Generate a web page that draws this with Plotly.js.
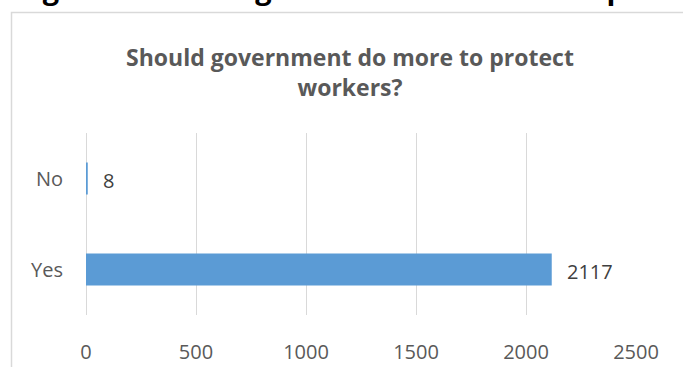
<!DOCTYPE html>
<html>
<head>
<meta charset="utf-8">
<script src="https://cdn.plot.ly/plotly-3.0.1.min.js"></script>
<style>html,body{margin:0;padding:0;background:#fff;}#chart{width:683px;height:367px;}</style>
</head>
<body>
<div id="chart"></div>
<script>
var categories = ['Yes', 'No'];
var counts = [2117, 8];
var xTicks = [0, 500, 1000, 1500, 2000, 2500];
var chartTitle = 'Should government do more to protect<br>workers?';
var captionText = 'Figure 3: Should government do more to protect workers?';

var W = 683, H = 367, L = 86, R = 47, T = 133, B = 52;
var pw = W - L - R, ph = H - T - B;
function px2x(p) { return (p - L) / pw; }
function py2y(p) { return 1 - (p - T) / ph; }

var font = 'Open Sans, DejaVu Sans, sans-serif';

var trace = {
  type: 'bar',
  orientation: 'h',
  y: categories,
  x: counts,
  marker: { color: '#5b9bd5' },
  hoverinfo: 'skip'
};

var annotations = categories.map(function (c, i) {
  return {
    xref: 'x', yref: 'y', x: counts[i], y: c,
    text: String(counts[i]), showarrow: false,
    xanchor: 'left', yanchor: 'middle', xshift: 13, yshift: -2,
    font: { family: font, size: 20, color: '#404040' }
  };
});
annotations.push({
  xref: 'paper', yref: 'paper', x: px2x(16), y: py2y(-13),
  text: '<b>' + captionText + '</b>', showarrow: false,
  xanchor: 'left', yanchor: 'middle',
  font: { family: font, size: 29, color: '#000000' }
});

var layout = {
  width: W, height: H,
  margin: { l: L, r: R, t: T, b: B, pad: 0 },
  paper_bgcolor: '#ffffff', plot_bgcolor: '#ffffff',
  showlegend: false,
  bargap: 0.65,
  title: {
    text: '<b>' + chartTitle + '</b>',
    xref: 'paper', x: px2x(350), xanchor: 'center',
    yref: 'container', y: 1 - 66 / H, yanchor: 'top',
    font: { family: font, size: 23, color: '#595959' }
  },
  xaxis: {
    range: [0, 2500], tickvals: xTicks, ticktext: xTicks.map(String),
    showgrid: true, gridcolor: '#d9d9d9', gridwidth: 1,
    zeroline: true, zerolinecolor: '#d9d9d9', zerolinewidth: 1,
    showline: false, ticks: '', ticklabelstandoff: 23,
    tickfont: { family: font, size: 20, color: '#595959' }
  },
  yaxis: {
    type: 'category', categoryorder: 'array', categoryarray: categories,
    range: [-0.5, 1.5],
    showgrid: false, zeroline: false, showline: false, ticks: '',
    ticklabelstandoff: 22,
    tickfont: { family: font, size: 20, color: '#595959' }
  },
  shapes: [{
    type: 'rect', xref: 'paper', yref: 'paper',
    x0: px2x(11.5), x1: px2x(760), y0: py2y(420), y1: py2y(12.5),
    line: { color: '#d9d9d9', width: 1.5 }, fillcolor: 'rgba(0,0,0,0)', layer: 'below'
  }],
  annotations: annotations
};

Plotly.newPlot('chart', [trace], layout, { displayModeBar: false, staticPlot: true });
</script>
</body>
</html>
